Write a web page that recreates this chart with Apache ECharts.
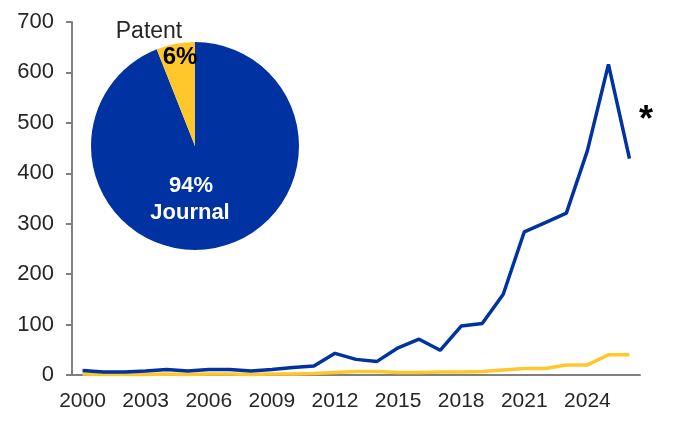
<!DOCTYPE html>
<html>
<head>
<meta charset="utf-8">
<script src="https://cdn.jsdelivr.net/npm/echarts@6/dist/echarts.min.js"></script>
<style>
html,body{margin:0;padding:0;background:#fff;}
#chart{width:679px;height:432px;}
</style>
</head>
<body>
<div id="chart"></div>
<script>
var years = ['2000','2001','2002','2003','2004','2005','2006','2007','2008','2009','2010','2011','2012','2013','2014','2015','2016','2017','2018','2019','2020','2021','2022','2023','2024','2025','2026'];
var journal = [9,6,6,8,11,8,11,11,8,11,15,18,43,31,27,54,71,49,97,102,160,284,302,321,445,616,429];
var patent = [2,1,1,1,2,1,2,2,1,2,2,3,5,7,7,5,5,6,6,7,10,13,13,20,20,40,40];
var pieNames = ['Journal','Patent'];
var pieShares = [94,6];
var yTicks = {min:0, max:700, interval:100};

var blue = '#0033A1', yellow = '#FFC72C';
var font = 'Liberation Sans, Arial, sans-serif';

var chart = echarts.init(document.getElementById('chart'));
chart.setOption({
  animation:false,
  backgroundColor:'#ffffff',
  grid:{left:72,right:39,top:22,bottom:57,containLabel:false},
  xAxis:{
    type:'category',
    data:years,
    boundaryGap:true,
    axisLine:{lineStyle:{color:'#808080',width:2}},
    axisTick:{alignWithLabel:true,interval:0,length:6,lineStyle:{color:'#808080',width:2}},
    axisLabel:{interval:2,color:'#262626',fontSize:21,fontFamily:font,margin:16}
  },
  yAxis:{
    type:'value',
    min:yTicks.min,max:yTicks.max,interval:yTicks.interval,
    axisLine:{show:true,lineStyle:{color:'#808080',width:2}},
    axisTick:{show:true,length:6,lineStyle:{color:'#808080',width:2}},
    splitLine:{show:false},
    axisLabel:{color:'#262626',fontSize:22,fontFamily:font,margin:18}
  },
  series:[
    {name:'Patent',type:'line',data:patent,symbol:'none',lineStyle:{color:yellow,width:3.5},itemStyle:{color:yellow},z:2},
    {name:'Journal',type:'line',data:journal,symbol:'none',lineStyle:{color:blue,width:3.5},itemStyle:{color:blue},z:3},
    {
      type:'pie',
      center:[195,146],
      radius:104,
      startAngle:90,
      clockwise:true,
      label:{show:false},
      labelLine:{show:false},
      silent:true,
      z:5,
      data:[
        {name:pieNames[0],value:pieShares[0],itemStyle:{color:blue}},
        {name:pieNames[1],value:pieShares[1],itemStyle:{color:yellow}}
      ]
    }
  ],
  graphic:[
    {type:'text',x:149,y:32,z:10,style:{text:pieNames[1],fill:'#262626',font:'23px '+font,textAlign:'center',textVerticalAlign:'middle'}},
    {type:'text',x:180,y:57,z:10,style:{text:pieShares[1]+'%',fill:'#000',font:'bold 24px '+font,textAlign:'center',textVerticalAlign:'middle'}},
    {type:'text',x:191,y:186,z:10,style:{text:pieShares[0]+'%',fill:'#fff',font:'bold 22px '+font,textAlign:'center',textVerticalAlign:'middle'}},
    {type:'text',x:190,y:213,z:10,style:{text:pieNames[0],fill:'#fff',font:'bold 22px '+font,textAlign:'center',textVerticalAlign:'middle'}},
    {type:'text',left:639,top:103,z:10,style:{text:'*',fill:'#000',font:'bold 36px '+font}}
  ]
});
</script>
</body>
</html>
